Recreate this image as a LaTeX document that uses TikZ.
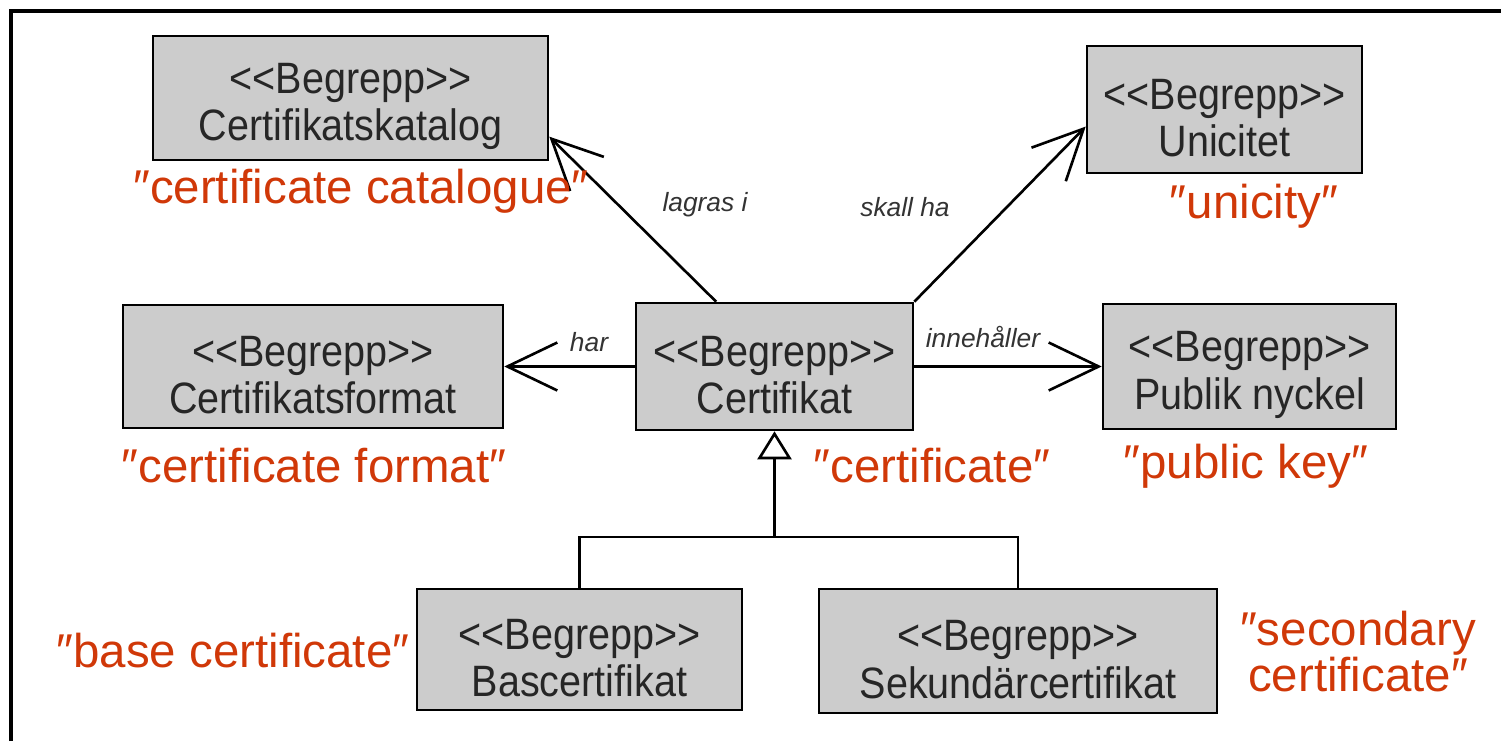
\documentclass[tikz,border=0pt]{standalone}
\usepackage{fontspec}
\setmainfont{Liberation Sans}
\newfontfamily\begreppfont[FakeStretch=0.9]{Liberation Sans}
\usetikzlibrary{arrows.meta}
\definecolor{begreppgray}{RGB}{204,204,204}
\definecolor{enred}{RGB}{208,56,8}
\newcommand\stereotyp{\rule{0pt}{27pt}<{}<Begrepp>{}>}
\begin{document}
\begin{tikzpicture}[x=0.02cm,y=-0.02cm,
		begrepp/.style={draw=black,line width=1.5pt,fill=begreppgray,text=black!85,align=center,
			font=\begreppfont\fontsize{25}{27}\selectfont,inner sep=0pt},
		eng/.style={text=enred,align=center,font=\fontsize{27}{24}\selectfont},
		rel/.style={text=black!80,font=\itshape\fontsize{15}{18}\selectfont},
		assoc/.style={line width=1.5pt,-{Straight Barb[length=1cm,width=0.96cm,line width=1.5pt]}},
		gen/.style={line width=1.5pt,-{Triangle[open,length=0.56cm,width=0.68cm,fill=white,line width=1.5pt]}}]
	\useasboundingbox (0,0) rectangle (1501,741);
	\draw[line width=0.065cm] (11,741) |- (1501,11);
	% begrepp
	\node[begrepp,minimum width=7.9cm,minimum height=2.48cm] (katalog) at (350.5,98) {\stereotyp\\Certifikatskatalog};
	\node[begrepp,minimum width=5.5cm,minimum height=2.54cm] (unicitet) at (1224.5,109.5) {\stereotyp\\Unicitet};
	\node[begrepp,minimum width=7.6cm,minimum height=2.46cm] (format) at (313,366.5) {\stereotyp\\Certifikatsformat};
	\node[begrepp,minimum width=5.54cm,minimum height=2.54cm] (cert) at (774.5,366.5) {\stereotyp\\Certifikat};
	\node[begrepp,minimum width=5.86cm,minimum height=2.5cm] (nyckel) at (1249.5,366.5) {\stereotyp\\Publik nyckel};
	\node[begrepp,minimum width=6.5cm,minimum height=2.42cm] (bas) at (579.5,649.5) {\stereotyp\\Bascertifikat};
	\node[begrepp,minimum width=7.96cm,minimum height=2.48cm] (sek) at (1018,651) {\stereotyp\\Sekundärcertifikat};
	% associationer
	\draw[assoc] (cert.132.6) -- (katalog.-11);
	\draw[assoc] (cert.north east) -- (unicitet.187);
	\draw[assoc] (cert) -- (format);
	\draw[assoc] (cert) -- (nyckel);
	\node[rel] (lagras) at (705,205) {lagras i};
	\node[rel] (skall) at (905,207) {skall ha};
	\node[rel] (har) at (589,342) {har};
	\node[rel] (innehaller) at (983,337) {innehåller};
	% generalisering
	\coordinate (gren) at (774.5,537);
	\draw[gen] (gren) -- (cert.south);
	\draw[line width=1.5pt] (bas.north) |- (gren) -| (sek.north);
	% engelska
	\node[eng] (enkatalog) at (361,191) {″certificate catalogue″};
	\node[eng] (enunicitet) at (1254,206) {″unicity″};
	\node[eng] (enformat) at (314,466) {″certificate format″};
	\node[eng] (encert) at (932,466) {″certificate″};
	\node[eng] (ennyckel) at (1246,466) {″public key″};
	\node[eng] (enbas) at (233,651) {″base certificate″};
	\node[eng] (ensek) at (1358,652) {″secondary\\certificate″};
\end{tikzpicture}
\end{document}
